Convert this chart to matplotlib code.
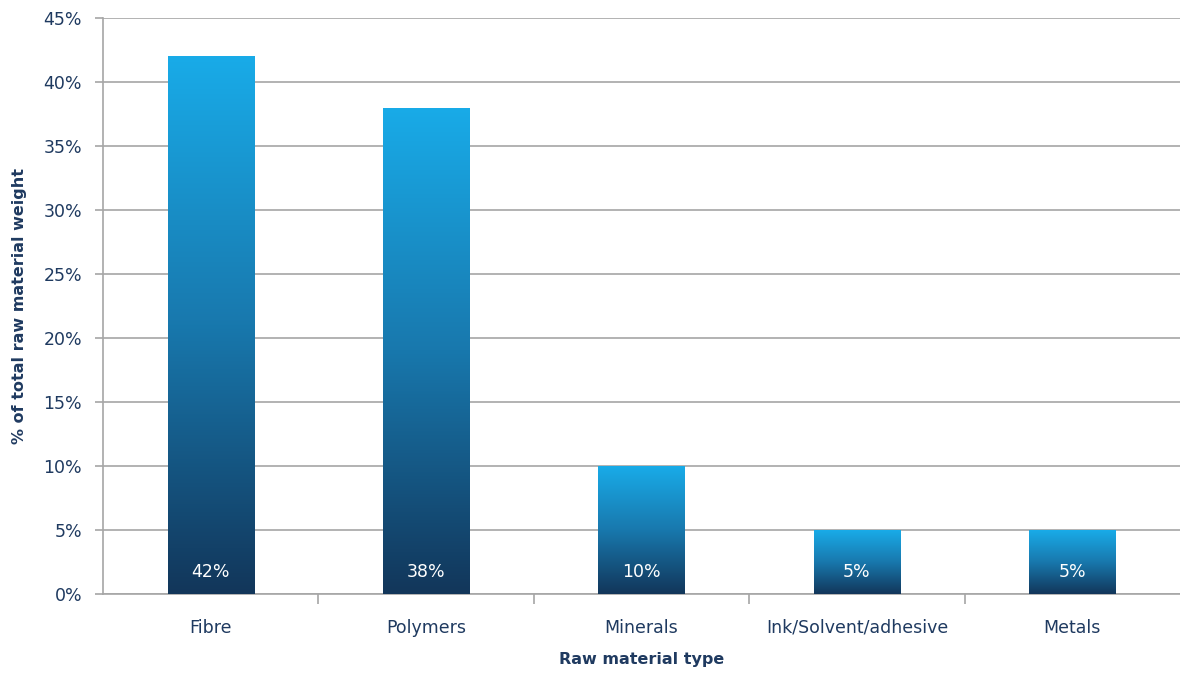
import matplotlib
matplotlib.use("Agg")
import matplotlib.pyplot as plt
import numpy as np
from matplotlib.colors import LinearSegmentedColormap

categories = ["Fibre", "Polymers", "Minerals", "Ink/Solvent/adhesive", "Metals"]
values = [42, 38, 10, 5, 5]
labels = ["42%", "38%", "10%", "5%", "5%"]
yticks = [0, 5, 10, 15, 20, 25, 30, 35, 40, 45]

text_color = "#1F3A60"
grid_color = "#A6A6A6"
plt.rcParams['font.family'] = ['DejaVu Sans']

fig = plt.figure(figsize=(11.8, 6.75), dpi=100)
ax = fig.add_axes([0.0873, 0.12, 0.9127, 0.8533])

cmap = LinearSegmentedColormap.from_list("g", ["#12365A", "#1878AD", "#19ABE8"])
grad = np.linspace(0, 1, 256).reshape(-1, 1)

x = np.arange(len(categories))
bars = ax.bar(x, values, width=0.4, color="none", edgecolor="none", zorder=3)
for b, lab in zip(bars, labels):
    x0, w, h = b.get_x(), b.get_width(), b.get_height()
    im = ax.imshow(grad, extent=[x0, x0 + w, 0, h], origin="lower", cmap=cmap,
                   aspect="auto", zorder=3)
    im.set_clip_path(b)
    ax.text(x0 + w / 2, 1.75, lab, ha="center", va="center", color="white",
            fontsize=12.5, zorder=4)

ax.set_xlim(-0.5, len(categories) - 0.5)
ax.set_ylim(0, 45)
ax.set_yticks(yticks)
ax.set_yticklabels([f"{v}%" for v in yticks])
ax.yaxis.grid(True, color=grid_color, linewidth=1.2, zorder=0)
ax.set_axisbelow(True)

ax.set_xticks(x)
ax.set_xticklabels(categories)
ax.set_xticks(np.arange(0.5, len(categories) - 1, 1), minor=True)
ax.tick_params(axis="x", which="major", length=0, pad=18, labelsize=12.5, labelcolor=text_color)
ax.tick_params(axis="x", which="minor", length=7, width=1.2, color=grid_color, direction="out")
ax.tick_params(axis="y", length=6, width=1.2, color=grid_color, labelsize=12.5,
               labelcolor=text_color, pad=9)

for s in ["top", "right"]:
    ax.spines[s].set_visible(False)
for s in ["left", "bottom"]:
    ax.spines[s].set_color(grid_color)
    ax.spines[s].set_linewidth(1.2)

ax.set_xlabel("Raw material type", fontsize=11.5, fontweight="bold", color=text_color, labelpad=11)
ax.set_ylabel("% of total raw material weight", fontsize=11.5, fontweight="bold", color=text_color, labelpad=12)

fig.savefig("out.png", dpi=100)
